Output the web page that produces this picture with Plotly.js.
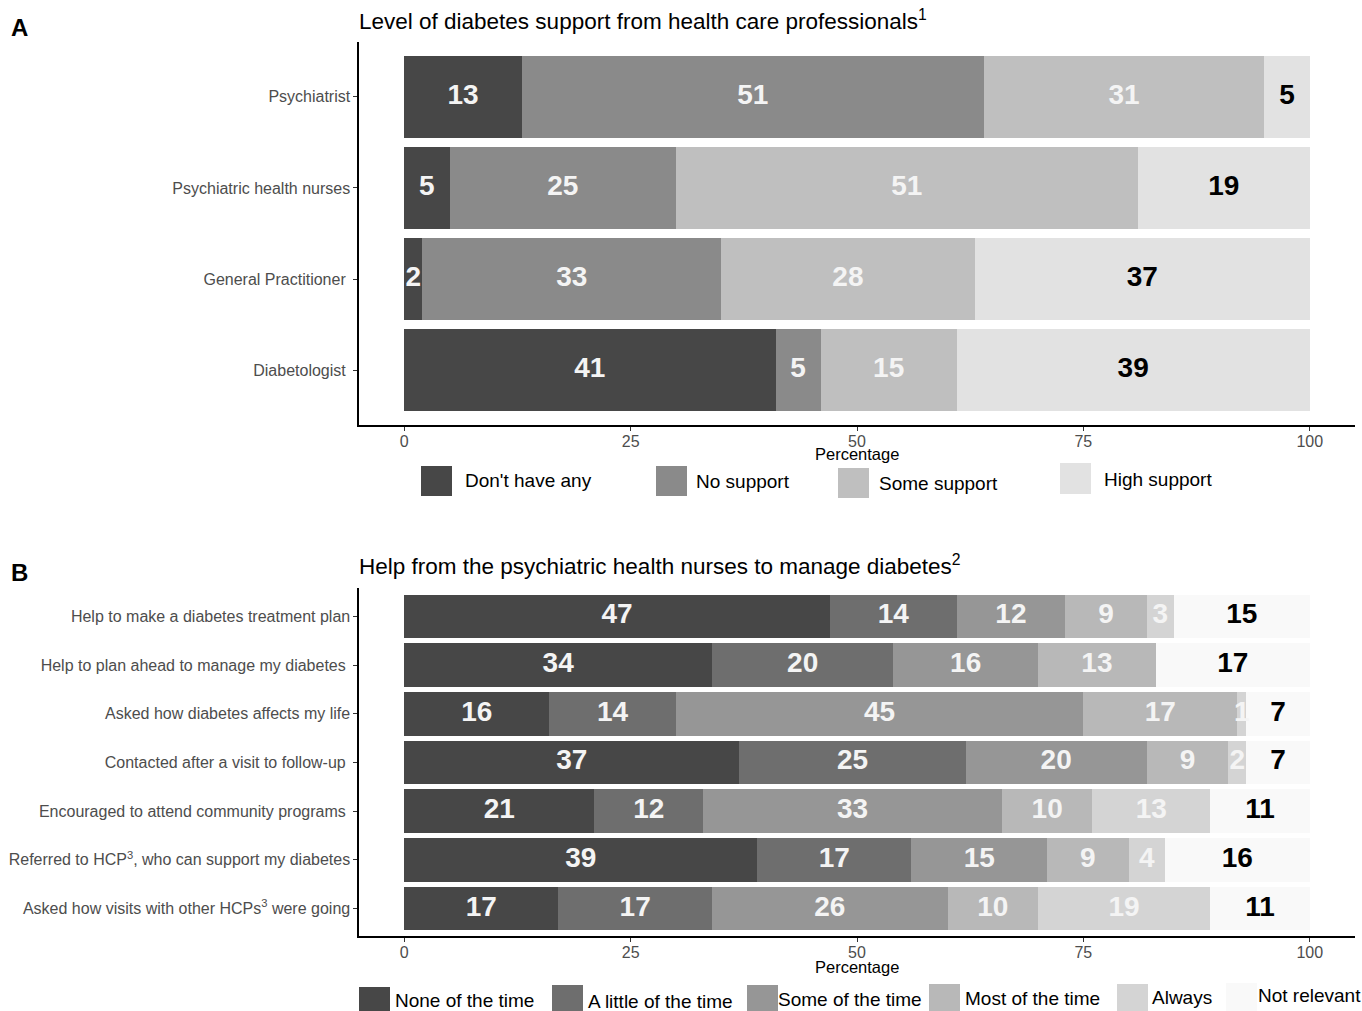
<!DOCTYPE html>
<html>
<head>
<meta charset="utf-8">
<script src="https://cdn.plot.ly/plotly-3.0.1.min.js"></script>
<style>
html,body{margin:0;padding:0;background:#fff;}
#chart{width:1362px;height:1011px;}
</style>
</head>
<body>
<div id="chart"></div>
<script>
// ---------------- DATA ----------------
const categoriesA = ["Psychiatrist", "Psychiatric health nurses", "General Practitioner\u00a0", "Diabetologist\u00a0"];
const levelsA = ["Don't have any", "No support", "Some support", "High support"];
const dontHaveAny = [13, 5, 2, 41];
const noSupport   = [51, 25, 33, 5];
const someSupport = [31, 51, 28, 15];
const highSupport = [5, 19, 37, 39];

const categoriesB = [
  "Help to make a diabetes treatment plan",
  "Help to plan ahead to manage my diabetes\u00a0",
  "Asked how diabetes affects my life",
  "Contacted after a visit to follow-up\u00a0",
  "Encouraged to attend community programs\u00a0",
  "Referred to HCP<sup>3</sup>, who can support my diabetes",
  "Asked how visits with other HCPs<sup>3</sup> were going"
];
const levelsB = ["None of the time", "A little of the time", "Some of the time", "Most of the time", "Always", "Not relevant"];
const noneOfTime   = [47, 34, 16, 37, 21, 39, 17];
const littleOfTime = [14, 20, 14, 25, 12, 17, 17];
const someOfTime   = [12, 16, 45, 20, 33, 15, 26];
const mostOfTime   = [9, 13, 17, 9, 10, 9, 10];
const always       = [3, 0, 1, 2, 13, 4, 19];
const notRelevant  = [15, 17, 7, 7, 11, 16, 11];

const xTicks = [0, 25, 50, 75, 100];

// ---------------- STYLE ----------------
const colorsA = ["#474747", "#8a8a8a", "#bfbfbf", "#e2e2e2"];
const colorsB = ["#474747", "#6e6e6e", "#969696", "#b8b8b8", "#d4d4d4", "#f9f9f9"];
const W = 1362, H = 1011;
const px = v => v / W;
const py = v => 1 - v / H;
const FONT = "Liberation Sans, Arial, Helvetica, sans-serif";
const labelLight = "#f4f4f4";

const seriesA = [dontHaveAny, noSupport, someSupport, highSupport];
const seriesB = [noneOfTime, littleOfTime, someOfTime, mostOfTime, always, notRelevant];

const traces = [];

function addPanel(cats, levels, series, colors, xa, ya) {
  const n = cats.length;
  const cum = new Array(n).fill(0);
  const tx = [], ty = [], tt = [], tc = [];
  series.forEach((vals, k) => {
    traces.push({
      type: "bar", orientation: "h",
      x: vals, y: cats, name: levels[k],
      xaxis: xa, yaxis: ya,
      marker: {color: colors[k], line: {width: 0}},
      showlegend: false, hoverinfo: "skip"
    });
    vals.forEach((v, i) => {
      if (v > 0) {
        tx.push(cum[i] + v / 2);
        ty.push(cats[i]);
        tt.push(String(v));
        tc.push(k === series.length - 1 ? "#000000" : labelLight);
      }
      cum[i] += v;
    });
  });
  traces.push({
    type: "scatter", mode: "text",
    x: tx, y: ty, text: tt,
    xaxis: xa, yaxis: ya,
    textposition: "middle center",
    textfont: {family: FONT, size: 28, color: tc, weight: "bold"},
    showlegend: false, hoverinfo: "skip", cliponaxis: false
  });
}

addPanel(categoriesA, levelsA, seriesA, colorsA, "x", "y");
addPanel(categoriesB, levelsB, seriesB, colorsB, "x2", "y2");

// legend layout (pixel boxes and text anchors)
const legendA = {
  boxX: [421, 656, 838, 1060],
  boxY: [[466, 496], [466, 496], [468, 498], [463, 494]],
  textX: [463, 694, 877, 1102],
  textY: [481, 482, 484, 480]
};
const legendB = {
  boxX: [359, 552, 747, 929, 1117, 1226],
  boxY: [[987, 1012], [985, 1012], [985, 1012], [984, 1012], [984, 1012], [983, 1012]],
  textX: [393, 586, 776, 963, 1150, 1256],
  textY: [1000, 1001, 999, 998, 997, 995]
};

const shapes = [];
const annotations = [];

function addLegend(leg, levels, colors) {
  levels.forEach((lab, k) => {
    shapes.push({
      type: "rect", xref: "paper", yref: "paper",
      x0: px(leg.boxX[k]), x1: px(leg.boxX[k] + 31),
      y0: py(leg.boxY[k][1]), y1: py(leg.boxY[k][0]),
      fillcolor: colors[k], line: {width: 0}
    });
    annotations.push({
      xref: "paper", yref: "paper",
      x: px(leg.textX[k]), y: py(leg.textY[k]),
      xanchor: "left", yanchor: "middle",
      text: lab, showarrow: false,
      font: {family: FONT, size: 19, color: "#000"}
    });
  });
}
addLegend(legendA, levelsA, colorsA);
addLegend(legendB, levelsB, colorsB);

// panel letters and titles
annotations.push(
  {xref: "paper", yref: "paper", x: px(9), y: py(27), xanchor: "left", yanchor: "middle",
   text: "<b>A</b>", showarrow: false, font: {family: FONT, size: 24, color: "#000"}},
  {xref: "paper", yref: "paper", x: px(9), y: py(572), xanchor: "left", yanchor: "middle",
   text: "<b>B</b>", showarrow: false, font: {family: FONT, size: 24, color: "#000"}},
  {xref: "paper", yref: "paper", x: px(357), y: py(20), xanchor: "left", yanchor: "middle",
   text: "Level of diabetes support from health care professionals<sup>1</sup>", showarrow: false,
   font: {family: FONT, size: 22.5, color: "#000"}},
  {xref: "paper", yref: "paper", x: px(357), y: py(565), xanchor: "left", yanchor: "middle",
   text: "Help from the psychiatric health nurses to manage diabetes<sup>2</sup>", showarrow: false,
   font: {family: FONT, size: 22.5, color: "#000"}},
  {xref: "x", yref: "paper", x: 50, y: py(454), xanchor: "center", yanchor: "middle",
   text: "Percentage", showarrow: false, font: {family: FONT, size: 16.5, color: "#000"}},
  {xref: "x2", yref: "paper", x: 50, y: py(967), xanchor: "center", yanchor: "middle",
   text: "Percentage", showarrow: false, font: {family: FONT, size: 16.5, color: "#000"}}
);

const xCommon = {
  range: [-5, 105], tickvals: xTicks, ticktext: xTicks.map(String),
  showgrid: false, zeroline: false, showline: true, linecolor: "#000", linewidth: 1.6,
  ticks: "outside", ticklen: 4, tickcolor: "#333", tickwidth: 1, ticklabelstandoff: -3,
  tickfont: {family: FONT, size: 16, color: "#4d4d4d"}, fixedrange: true
};
const yCommon = {
  type: "category", showgrid: false, zeroline: false, showline: true, linecolor: "#000", linewidth: 1.6,
  ticks: "outside", ticklen: 4, tickcolor: "#333", tickwidth: 1,
  tickfont: {family: FONT, size: 16, color: "#4d4d4d"}, fixedrange: true
};

const layout = {
  width: W, height: H,
  margin: {l: 0, r: 0, t: 0, b: 0},
  paper_bgcolor: "#fff", plot_bgcolor: "#fff",
  barmode: "stack", bargap: 0.1,
  showlegend: false,
  font: {family: FONT},
  xaxis: Object.assign({}, xCommon, {domain: [px(359), px(1355)], anchor: "y"}),
  yaxis: Object.assign({}, yCommon, {domain: [py(425), py(42)], anchor: "x",
    categoryorder: "array", categoryarray: categoriesA, range: [3.6, -0.6]}),
  xaxis2: Object.assign({}, xCommon, {domain: [px(359), px(1355)], anchor: "y2"}),
  yaxis2: Object.assign({}, yCommon, {domain: [py(936), py(588)], anchor: "x2",
    categoryorder: "array", categoryarray: categoriesB, range: [6.565, -0.585]}),
  shapes: shapes,
  annotations: annotations
};

Plotly.newPlot("chart", traces, layout, {displayModeBar: false, staticPlot: true});
</script>
</body>
</html>
